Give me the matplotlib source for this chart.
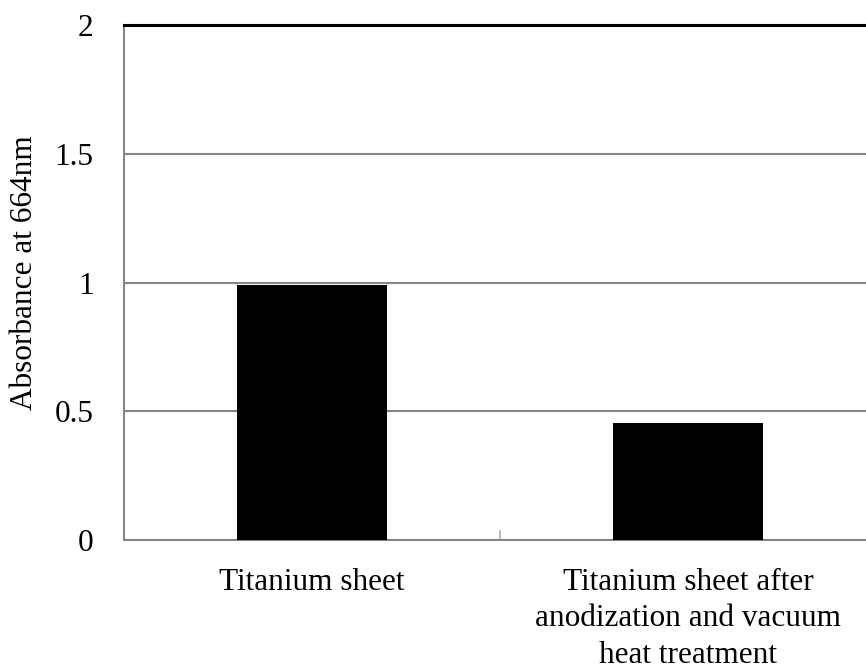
import matplotlib.pyplot as plt

# Data
categories = ["Titanium sheet", "Titanium sheet after\nanodization and vacuum\nheat treatment"]
absorbance = [0.99, 0.456]
y_ticks = [0, 0.5, 1, 1.5, 2]
y_tick_labels = ["0", "0.5", "1", "1.5", "2"]

plt.rcParams["font.family"] = ["Liberation Serif", "DejaVu Serif"]

fig = plt.figure(figsize=(8.66, 6.69), dpi=100)
# axes run slightly past the right edge, as in the reference
ax = fig.add_axes([124 / 866, 129 / 669, 752 / 866, 515 / 669])

x = list(range(len(categories)))
ax.bar(x, absorbance, width=0.4, color="black", zorder=3)

# Gridlines
ax.set_ylim(0, 2)
ax.set_xlim(-0.5, len(categories) - 0.5)
ax.set_yticks(y_ticks)
ax.set_yticklabels(y_tick_labels)
ax.yaxis.grid(True, color="#868686", linewidth=1.5, zorder=0)
ax.set_axisbelow(True)

# Spines
ax.spines["right"].set_visible(False)
ax.spines["top"].set_color("black")
ax.spines["top"].set_linewidth(2.2)
ax.spines["left"].set_color("#868686")
ax.spines["left"].set_linewidth(1.5)
ax.spines["bottom"].set_color("#868686")
ax.spines["bottom"].set_linewidth(1.5)

# Category labels and the divider tick between them
ax.set_xticks(x)
ax.set_xticklabels(categories, fontsize=22.5, linespacing=1.34)
ax.set_xticks([0.5], minor=True)
ax.tick_params(axis="x", which="major", length=0, pad=20)
ax.tick_params(axis="x", which="minor", direction="in", length=7, width=1.2, color="#b0b0b0")
ax.tick_params(axis="y", length=0, pad=22, labelsize=22.5)

ax.set_ylabel("Absorbance at 664nm", fontsize=22.5)
ax.yaxis.set_label_coords(-0.132, 0.52)
ax.yaxis.label.set_verticalalignment("center")

plt.savefig("out.png", dpi=100)
